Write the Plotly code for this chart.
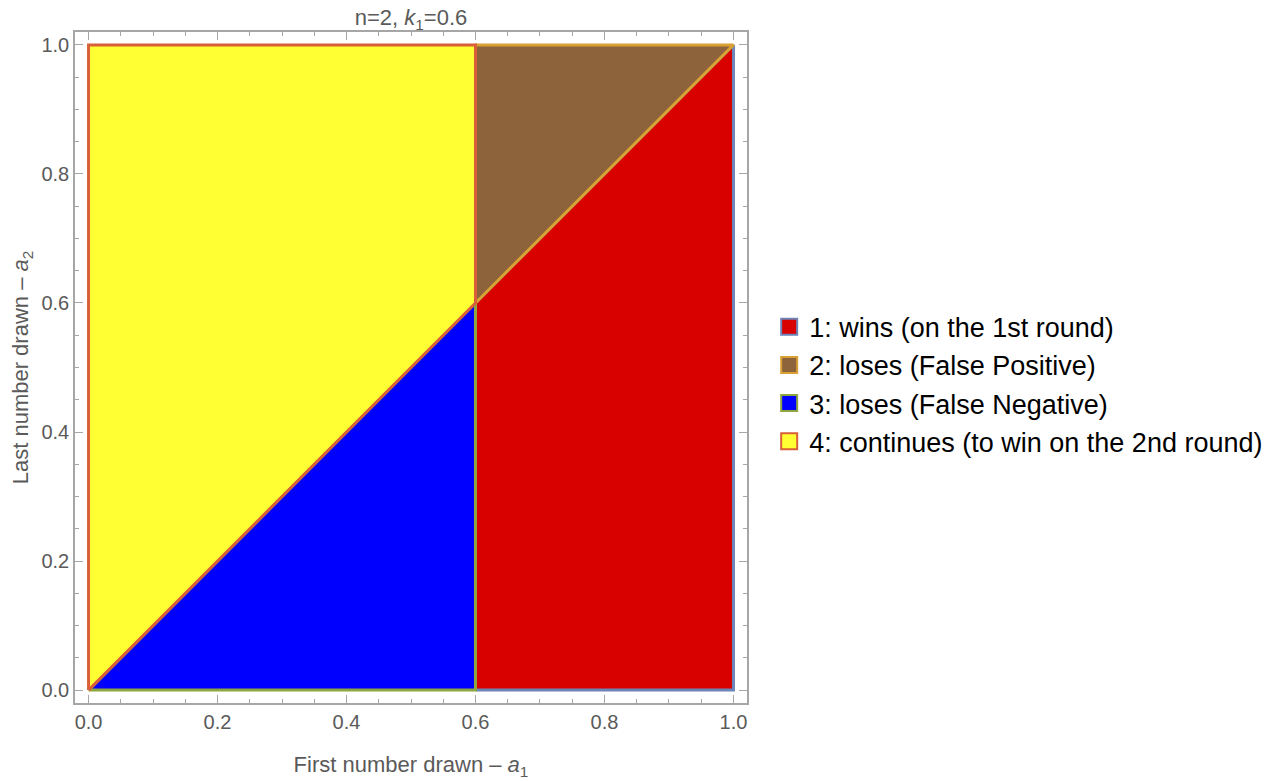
import plotly.graph_objects as go

# region polygons (a1, a2) in the unit square, k1 = 0.6
k1 = 0.6
region_names = [
    "1: wins (on the 1st round)",
    "2: loses (False Positive)",
    "3: loses (False Negative)",
    "4: continues (to win on the 2nd round)",
]
wins_x = [0.6, 1.0, 1.0, 0.6, 0.6]
wins_y = [0.0, 0.0, 1.0, 0.6, 0.0]
fpos_x = [0.6, 1.0, 0.6, 0.6]
fpos_y = [0.6, 1.0, 1.0, 0.6]
fneg_x = [0.0, 0.6, 0.6, 0.0]
fneg_y = [0.0, 0.0, 0.6, 0.0]
cont_x = [0.0, 0.6, 0.6, 0.0, 0.0]
cont_y = [0.0, 0.6, 1.0, 1.0, 0.0]

fill_colors = ["#D90000", "#8C633A", "#0000FF", "#FFFF33"]
edge_colors = ["#6C84B8", "#D9A033", "#8FA640", "#D95F38"]

regions = [(wins_x, wins_y), (fpos_x, fpos_y), (fneg_x, fneg_y), (cont_x, cont_y)]
draw_order = [0, 2, 1, 3]  # later regions put their edges on top

fig = go.Figure()
for i in draw_order:
    xs, ys = regions[i]
    fig.add_trace(go.Scatter(
        x=xs, y=ys, mode="lines", fill="toself",
        fillcolor=fill_colors[i],
        line=dict(color=edge_colors[i], width=3),
        showlegend=False, hoverinfo="skip",
    ))

# legend swatches
for i, name in enumerate(region_names):
    fig.add_trace(go.Scatter(
        x=[None], y=[None], mode="markers", name=name,
        legendgroup=str(i),
        marker=dict(symbol="square", size=16, color=fill_colors[i],
                    line=dict(color=edge_colors[i], width=2)),
    ))

gray = "#5a5a5a"
axis_common = dict(
    showgrid=False, zeroline=False, automargin=False,
    showline=True, linecolor="#a6a6a6", linewidth=1.5, mirror="allticks",
    ticks="inside", ticklen=8, tickcolor="#a6a6a6", tickwidth=1,
    tickvals=[0, 0.2, 0.4, 0.6, 0.8, 1.0], ticktext=["0.0", "0.2", "0.4", "0.6", "0.8", "1.0"],
    minor=dict(ticks="inside", ticklen=4, tickcolor="#a6a6a6", dtick=0.05, showgrid=False),
    tickfont=dict(size=20, color=gray),
)

# the page body adds an 8px offset, so the figure is shrunk to match
fig.update_layout(
    width=1275, height=773,
    paper_bgcolor="white", plot_bgcolor="white",
    font=dict(family="Liberation Sans, Arial, sans-serif", color=gray),
    margin=dict(l=67, r=536, t=24, b=78, autoexpand=False),
    title=dict(text="n=2, <i>k</i><sub>1</sub>=0.6", x=0.5, xref="paper",
               y=1, yref="container", yanchor="top", pad=dict(t=2, b=0),
               font=dict(size=22, color=gray)),
    xaxis=dict(range=[-0.021, 1.021],
               title=dict(text="First number drawn \u2013 <i>a</i><sub>1</sub>",
                          font=dict(size=22, color=gray), standoff=25),
               **axis_common),
    yaxis=dict(range=[-0.02, 1.02],
               title=dict(text="Last number drawn \u2013 <i>a</i><sub>2</sub>",
                          font=dict(size=22, color=gray), standoff=16),
               **axis_common),
    legend=dict(x=1.033, xanchor="left", y=0.475, yanchor="middle",
                font=dict(size=27, color="black"), tracegroupgap=0,
                bgcolor="rgba(0,0,0,0)"),
)

fig.write_html("out.html")
